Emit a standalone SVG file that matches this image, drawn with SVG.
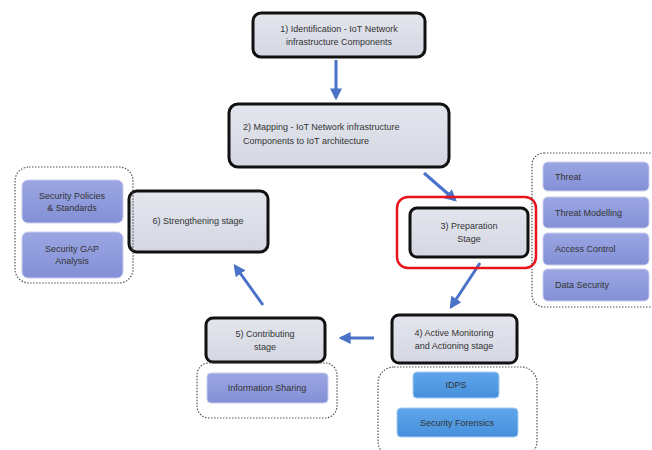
<svg xmlns="http://www.w3.org/2000/svg" width="652" height="450" viewBox="0 0 652 450">
  <defs>
    <linearGradient id="gStage" x1="0" y1="0" x2="0" y2="1">
      <stop offset="0" stop-color="#e4e6ee"/>
      <stop offset="1" stop-color="#d4d7e2"/>
    </linearGradient>
    <linearGradient id="gViolet" x1="0" y1="0" x2="0" y2="1">
      <stop offset="0" stop-color="#9ba6e2"/>
      <stop offset="1" stop-color="#8390d6"/>
    </linearGradient>
    <linearGradient id="gBlue" x1="0" y1="0" x2="0" y2="1">
      <stop offset="0" stop-color="#5ea5ea"/>
      <stop offset="1" stop-color="#4690dc"/>
    </linearGradient>
    <marker id="arrow" viewBox="0 0 10 10" refX="8" refY="5" markerWidth="4" markerHeight="4" orient="auto">
      <path d="M0,0 L10,5 L0,10 z" fill="#4a72c8"/>
    </marker>
  </defs>
  <style>
    text { font-family: "Liberation Sans", Arial, sans-serif; font-size: 9px; fill: #333; }
    .stage { fill: url(#gStage); stroke: #111; stroke-width: 3; }
    .item { fill: url(#gViolet); stroke: #c8cdee; stroke-width: 1; }
    .itemBlue { fill: url(#gBlue); stroke: #a8cdf2; stroke-width: 1; }
    .group { fill: none; stroke: #555; stroke-width: 1.2; stroke-dasharray: 1.5 1.5; }
    .edge { stroke: #4a72c8; stroke-width: 3; fill: none; marker-end: url(#arrow); }
    .hl { fill: none; stroke: #e8141c; stroke-width: 2.5; }
  </style>
  <rect width="652" height="450" fill="#ffffff"/>

  <!-- connectors -->
  <g id="connectors">
    <line class="edge" x1="336" y1="60" x2="336" y2="98"/>
    <line class="edge" x1="424" y1="173" x2="455" y2="200"/>
    <line class="edge" x1="480" y1="263" x2="451" y2="307"/>
    <line class="edge" x1="374" y1="338" x2="341" y2="338"/>
    <line class="edge" x1="263" y1="305" x2="235" y2="266"/>
  </g>

  <!-- stage 1 -->
  <g id="n1">
    <rect class="stage" x="253" y="13" width="172" height="44" rx="8"/>
    <text x="339" y="32" text-anchor="middle">1) Identification - IoT Network</text>
    <text x="339" y="45" text-anchor="middle">infrastructure Components</text>
  </g>

  <!-- stage 2 -->
  <g id="n2">
    <rect class="stage" x="229" y="104" width="220" height="63" rx="9"/>
    <text x="243" y="130">2) Mapping - IoT Network infrastructure</text>
    <text x="243" y="144">Components to IoT architecture</text>
  </g>

  <!-- stage 3 with highlight -->
  <g id="n3">
    <rect class="hl" x="397" y="197" width="139" height="71" rx="11"/>
    <rect class="stage" x="410" y="208" width="118" height="49" rx="7"/>
    <text x="469" y="229" text-anchor="middle">3) Preparation</text>
    <text x="469" y="242" text-anchor="middle">Stage</text>
  </g>

  <!-- stage 3 topics -->
  <g id="n3items">
    <rect class="group" x="532" y="153" width="130" height="154" rx="12"/>
    <rect class="item" x="543" y="162" width="106" height="29" rx="5"/>
    <text x="555" y="180">Threat</text>
    <rect class="item" x="543" y="197" width="106" height="31" rx="5"/>
    <text x="555" y="216">Threat Modelling</text>
    <rect class="item" x="543" y="233" width="106" height="32" rx="5"/>
    <text x="555" y="252">Access Control</text>
    <rect class="item" x="543" y="269" width="106" height="32" rx="5"/>
    <text x="555" y="288">Data Security</text>
  </g>

  <!-- stage 4 -->
  <g id="n4">
    <rect class="stage" x="392" y="315" width="125" height="48" rx="7"/>
    <text x="454" y="336" text-anchor="middle">4) Active Monitoring</text>
    <text x="454" y="349" text-anchor="middle">and Actioning stage</text>
  </g>

  <!-- stage 4 topics -->
  <g id="n4items">
    <rect class="group" x="378" y="367" width="159" height="90" rx="16"/>
    <rect class="itemBlue" x="413" y="372" width="86" height="26" rx="4"/>
    <text x="456" y="388" text-anchor="middle">IDPS</text>
    <rect class="itemBlue" x="397" y="408" width="121" height="29" rx="4"/>
    <text x="457" y="426" text-anchor="middle">Security Forensics</text>
  </g>

  <!-- stage 5 -->
  <g id="n5">
    <rect class="stage" x="206" y="318" width="119" height="44" rx="7"/>
    <text x="265" y="337" text-anchor="middle">5) Contributing</text>
    <text x="265" y="350" text-anchor="middle">stage</text>
  </g>

  <!-- stage 5 topics -->
  <g id="n5items">
    <rect class="group" x="197" y="363" width="140" height="55" rx="12"/>
    <rect class="item" x="207" y="373" width="121" height="30" rx="4"/>
    <text x="267" y="391" text-anchor="middle">Information Sharing</text>
  </g>

  <!-- stage 6 -->
  <g id="n6">
    <rect class="stage" x="129" y="191" width="139" height="61" rx="8"/>
    <text x="198" y="224" text-anchor="middle">6) Strengthening stage</text>
  </g>

  <!-- stage 6 topics -->
  <g id="n6items">
    <rect class="group" x="15" y="167" width="118" height="116" rx="14"/>
    <rect class="item" x="22" y="180" width="101" height="43" rx="6"/>
    <text x="72" y="199" text-anchor="middle">Security Policies</text>
    <text x="72" y="211" text-anchor="middle">&amp; Standards</text>
    <rect class="item" x="22" y="232" width="101" height="46" rx="6"/>
    <text x="72" y="252" text-anchor="middle">Security GAP</text>
    <text x="72" y="264" text-anchor="middle">Analysis</text>
  </g>
</svg>
